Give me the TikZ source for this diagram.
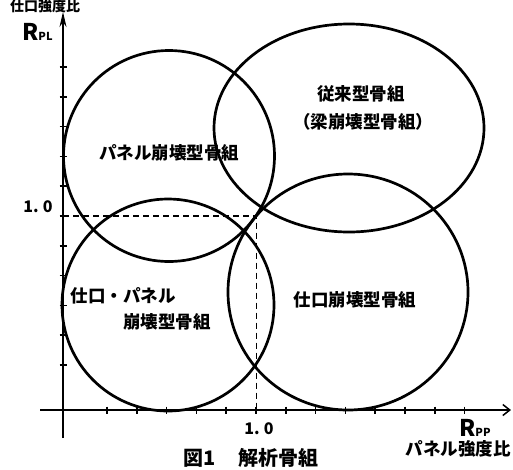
\documentclass[tikz,border=0pt]{standalone}
\usepackage{fontspec}
\newfontfamily\jp{Noto Sans CJK JP}
\usetikzlibrary{arrows.meta}
\begin{document}
\begin{tikzpicture}[x=1pt,y=-1pt,
  ring/.style={line width=2.7pt},
  axis/.style={line width=1.8pt},
  tickmark/.style={line width=1.5pt},
  guide/.style={line width=1.6pt, dash pattern=on 6pt off 4pt},
  lbl/.style={font=\jp\bfseries\fontsize{17.5}{21}\selectfont, inner sep=0pt, align=center},
  num/.style={font=\jp\bfseries\fontsize{16}{18}\selectfont, inner sep=0pt}]
\useasboundingbox (0,0) rectangle (513,469);
\clip (0,0) rectangle (513,469);
% axes
\coordinate (xs) at (40,410);
\coordinate (xe) at (511,410);
\coordinate (ys) at (63,438);
\coordinate (ye) at (63,12);
\draw[axis,-{Straight Barb[length=7pt,width=11pt,line width=1.5pt]}] (xs) -- (xe);
\draw[axis,-{Stealth[length=15pt,width=7pt]}] (ys) -- (ye);
% ticks
\foreach \k in {-5,...,7} {\draw[tickmark] (256+29.8*\k,406.5) -- (256+29.8*\k,413.5);}
\foreach \k in {-5,...,5} {\draw[tickmark] (59.5,216+29.8*\k) -- (66.5,216+29.8*\k);}
% 1.0 guides
\coordinate (one) at (256.5,216);
\coordinate (oney) at (63,216);
\coordinate (onex) at (256.5,410);
\draw[guide] (oney) -- (one) -- (onex);
% regions
\draw[ring] (169,156) ellipse [x radius=105.5pt, y radius=105.5pt];
\draw[ring] (349,128) ellipse [x radius=135pt, y radius=104pt];
\draw[ring] (168,305) ellipse [x radius=106pt, y radius=106pt];
\draw[ring] (348,292) ellipse [x radius=120pt, y radius=118pt];
% labels
\node[lbl, font=\jp\bfseries\fontsize{14}{16}\selectfont] (yl) at (45,6) {仕口強度比};
\node[anchor=base west, inner sep=0pt, font=\jp\bfseries] (rpl) at (22,40) {\fontsize{23}{23}\selectfont R\fontsize{11}{11}\selectfont PL};
\node[anchor=base west, inner sep=0pt, font=\jp\bfseries] (rpp) at (459,436) {\fontsize{23}{23}\selectfont R\fontsize{11}{11}\selectfont PP};
\node[num] (y1) at (38,207) {1.\hspace{4pt}0};
\node[num] (x1) at (259,429) {1.\hspace{4pt}0};
\node[lbl] (xl) at (458,449) {パネル強度比};
\node[lbl, font=\jp\bfseries\fontsize{20}{22}\selectfont] (cap) at (251,458) {図1\hspace{22pt}解析骨組};
\node[lbl] (t1) at (361,94) {従来型骨組};
\node[lbl] (t2) at (363,122) {（梁崩壊型骨組）};
\node[lbl] (t3) at (169,153) {パネル崩壊型骨組};
\node[lbl] (t4) at (123,296) {仕口・パネル};
\node[lbl] (t5) at (167,322) {崩壊型骨組};
\node[lbl] (t6) at (355,300) {仕口崩壊型骨組};
\end{tikzpicture}
\end{document}
